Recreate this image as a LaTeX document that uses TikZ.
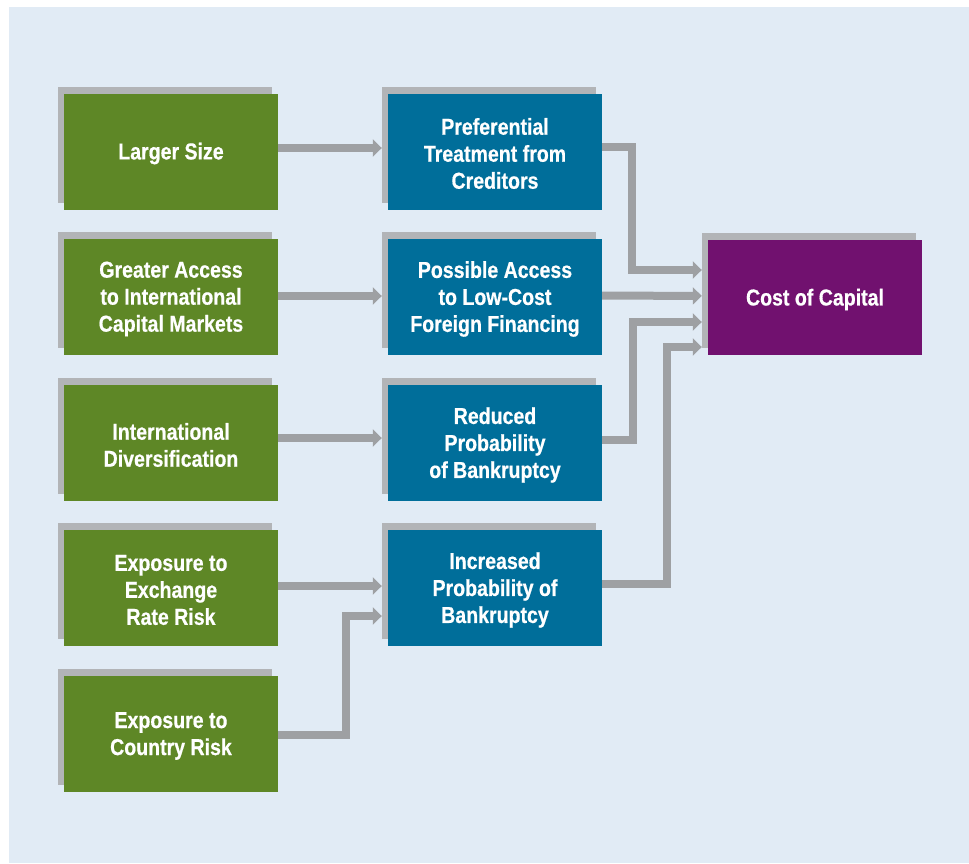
\documentclass[tikz,border=0pt]{standalone}
\usepackage{fontspec}
\setmainfont{Liberation Sans}[FakeStretch=0.85, BoldFeatures={FakeBold=0.6}]
\usetikzlibrary{arrows.meta,shadows}
\definecolor{bgblue}{RGB}{225,235,245}
\definecolor{boxgreen}{RGB}{94,135,38}
\definecolor{boxblue}{RGB}{0,110,154}
\definecolor{boxpurple}{RGB}{113,17,111}
\definecolor{arrgray}{RGB}{158,160,163}
\definecolor{shadgray}{RGB}{178,180,183}
\tikzset{
  box/.style={minimum width=214pt, minimum height=116pt, inner sep=0pt,
    general shadow={fill=shadgray, shadow xshift=-6pt, shadow yshift=7pt}},
  gbox/.style={box, fill=boxgreen},
  bbox/.style={box, fill=boxblue},
  pbox/.style={box, fill=boxpurple, minimum height=115pt},
  txt/.style={align=center, text=white, inner sep=0pt,
    font=\fontsize{23}{27}\selectfont\bfseries},
  arr/.style={draw=arrgray, line width=8pt, line join=miter,
    -{Triangle[width=17pt,length=9pt]}, shorten >=6pt}
}
\begin{document}
\begin{tikzpicture}[x=1pt,y=-1pt]
\useasboundingbox (0,0) rectangle (969,863);
\fill[bgblue] (9,7) rectangle (969,863);

\node[gbox] (g1) at (171,152) {};
\node[gbox] (g2) at (171,297) {};
\node[gbox] (g3) at (171,443) {};
\node[gbox] (g4) at (171,588) {};
\node[gbox] (g5) at (171,734) {};
\node[bbox] (b1) at (495,152) {};
\node[bbox] (b2) at (495,297) {};
\node[bbox] (b3) at (495,443) {};
\node[bbox] (b4) at (495,588) {};
\node[pbox] (p) at (815,297.5) {};

\node[txt] (tg1) at ([yshift=-1.5pt]g1.center) {Larger Size};
\node[txt] (tg2) at ([yshift=-2pt]g2.center) {Greater Access\\to International\\Capital Markets};
\node[txt] (tg3) at ([yshift=-2pt]g3.center) {International\\Diversification};
\node[txt] (tg4) at ([yshift=-2pt]g4.center) {Exposure to\\Exchange\\Rate Risk};
\node[txt] (tg5) at ([yshift=-2pt]g5.center) {Exposure to\\Country Risk};
\node[txt] (tb1) at ([yshift=-1.5pt]b1.center) {Preferential\\Treatment from\\Creditors};
\node[txt] (tb2) at ([yshift=-2pt]b2.center) {Possible Access\\to Low-Cost\\Foreign Financing};
\node[txt] (tb3) at ([yshift=-2pt]b3.center) {Reduced\\Probability\\of Bankruptcy};
\node[txt] (tb4) at ([yshift=-2pt]b4.center) {Increased\\Probability of\\Bankruptcy};
\node[txt] (tp) at ([yshift=-2pt]p.center) {Cost of Capital};

\draw[arr] ([yshift=4pt]g1.east) -- ([yshift=4pt]b1.west);
\draw[arr] ([yshift=1pt]g2.east) -- ([yshift=1pt]b2.west);
\draw[arr] ([yshift=5pt]g3.east) -- ([yshift=5pt]b3.west);
\draw[arr] ([yshift=2pt]g4.east) -- ([yshift=2pt]b4.west);
\draw[arr] ([yshift=-1pt]g5.east) -- ++(68,0) |- ([yshift=-28pt]b4.west);

\draw[arr] ([yshift=5pt]b1.east) -- ++(30,0) |- ([yshift=27.5pt]p.west);
\draw[arr] ([yshift=1.5pt]b2.east) -- ([yshift=1.5pt]p.west);
\draw[arr] ([yshift=3pt]b3.east) -- ++(31,0) |- ([yshift=-24.5pt]p.west);
\draw[arr] ([yshift=4pt]b4.east) -- ++(65,0) |- ([yshift=-49.5pt]p.west);
\end{tikzpicture}
\end{document}
